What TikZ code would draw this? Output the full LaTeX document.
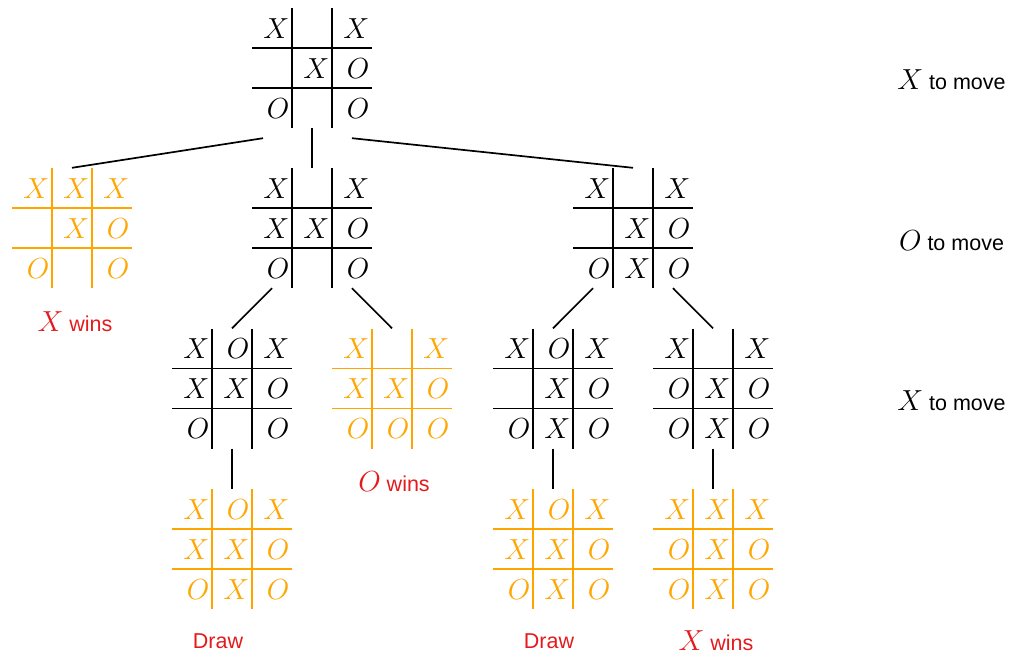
\RequirePackage{fix-cm}
\documentclass[tikz,border=0pt]{standalone}
\usepackage{fontspec}
\setmainfont{Liberation Sans}
\usetikzlibrary{calc}

\definecolor{winorange}{RGB}{255,165,0}
\definecolor{labelred}{RGB}{228,26,28}

\tikzset{
  board/.style={rectangle, minimum width=120pt, minimum height=120pt, inner sep=0pt},
  gridline/.style={line width=1.8pt},
  link/.style={line width=1.7pt, draw=black},
  piece/.style={anchor=base east, inner sep=0pt, font=\fontsize{29}{32}\selectfont},
  note/.style={inner sep=0pt, font=\fontsize{21.5}{25}\selectfont},
}

% large math letter used inside the text labels
\newcommand\mpiece[1]{{\fontsize{29}{32}\selectfont$#1$}}

% \tttboard{name}{centre}{colour}{nine cells, row by row; N = empty}
\newcommand\tttboard[4]{%
  \node[board] (#1) at #2 {};
  \begin{scope}[shift={(#1.center)}]
    \draw[gridline,#3] (-20,-60) -- (-20,60) (20,-60) -- (20,60)
                       (-60,-20) -- (60,-20) (-60,20) -- (60,20);
    \foreach \e [count=\i from 0] in {#4} {
      \pgfmathtruncatemacro\bcol{mod(\i,3)}
      \pgfmathtruncatemacro\brow{div(\i,3)}
      \if\e N\else
        \node[piece,text=#3] (#1-\i) at ({-60+40*\bcol+37.5},{-60+40*\brow+30}) {$\e$};
      \fi
    }
  \end{scope}
}

\begin{document}
\begin{tikzpicture}[x=1pt,y=-1pt]
  \useasboundingbox (0,0) rectangle (1015,654);

  % game tree positions
  \tttboard{root}{(312,68)}{black}{X,N,X,N,X,O,O,N,O}

  \tttboard{b1}{(72,228)}{winorange}{X,X,X,N,X,O,O,N,O}
  \tttboard{b2}{(312,228)}{black}{X,N,X,X,X,O,O,N,O}
  \tttboard{b3}{(633,228)}{black}{X,N,X,N,X,O,O,X,O}

  \tttboard{c1}{(232,388.5)}{black}{X,O,X,X,X,O,O,N,O}
  \tttboard{c2}{(392,388.5)}{winorange}{X,N,X,X,X,O,O,O,O}
  \tttboard{c3}{(553,388.5)}{black}{X,O,X,N,X,O,O,X,O}
  \tttboard{c4}{(713,388.5)}{black}{X,N,X,O,X,O,O,X,O}

  \tttboard{d1}{(232,549)}{winorange}{X,O,X,X,X,O,O,X,O}
  \tttboard{d2}{(553,549)}{winorange}{X,O,X,X,X,O,O,X,O}
  \tttboard{d3}{(713,549)}{winorange}{X,X,X,O,X,O,O,X,O}

  % moves
  \draw[link] ($(root.south)+(-49,10)$) -- (b1.north);
  \draw[link] (root.south) -- (b2.north);
  \draw[link] ($(root.south)+(40,10)$) -- (b3.north);

  \draw[link] ($(b2.south)+(-40,0)$) -- (c1.north);
  \draw[link] ($(b2.south)+(40,0)$) -- (c2.north);
  \draw[link] ($(b3.south)+(-40,0)$) -- (c3.north);
  \draw[link] ($(b3.south)+(40,0)$) -- (c4.north);

  \draw[link] (c1.south) -- (d1.north);
  \draw[link] (c3.south) -- (d2.north);
  \draw[link] (c4.south) -- (d3.north);

  % outcomes
  \node[note,text=labelred] (r1) at (75,322) {\mpiece{X} wins};
  \node[note,text=labelred] (r2) at (394,482) {\mpiece{O} wins};
  \node[note,text=labelred] (r3) at (218,641) {Draw};
  \node[note,text=labelred] (r4) at (549,641) {Draw};
  \node[note,text=labelred] (r5) at (716,641) {\mpiece{X} wins};

  % side to move at each level
  \node[note] (m1) at (951.5,80) {\mpiece{X} to move};
  \node[note] (m2) at (951.5,241) {\mpiece{O} to move};
  \node[note] (m3) at (951.5,401) {\mpiece{X} to move};
\end{tikzpicture}
\end{document}
